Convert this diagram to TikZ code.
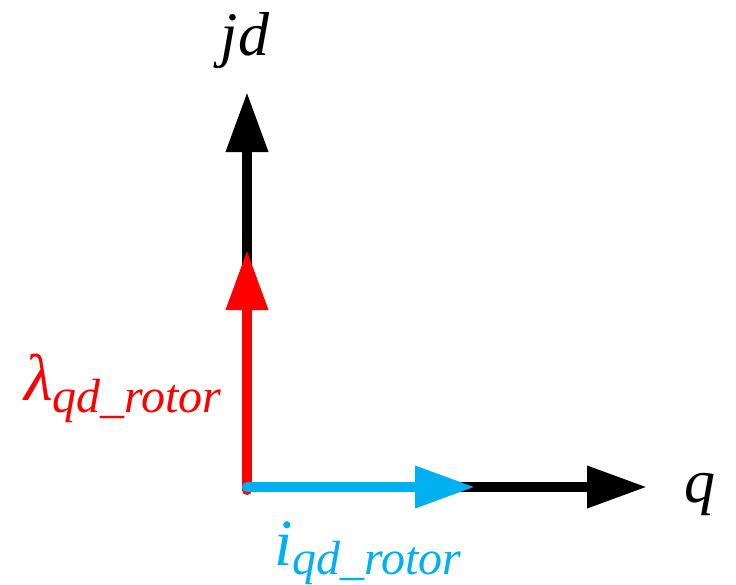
\documentclass[tikz,border=0pt]{standalone}
\usepackage{fontspec}
\setmainfont{Liberation Serif}
\usetikzlibrary{arrows.meta}
\definecolor{vred}{HTML}{FF0000}
\definecolor{vblue}{HTML}{00B0F0}
\begin{document}
\begin{tikzpicture}[x=1pt,y=-1pt,
  vec/.style={line width=10pt,-{Triangle[length=60pt,width=40pt,sharp]}},
  lbl/.style={inner sep=0pt,outer sep=0pt},
  big/.style={font=\fontsize{62}{62}\selectfont\itshape},
  sub/.style={font=\fontsize{48}{48}\selectfont\itshape}]
\useasboundingbox (0,0) rectangle (736,584);
\coordinate (O) at (247,487);
\coordinate (D) at (247,92);
\coordinate (Q) at (647,487);
\coordinate (R) at (247,250);
\coordinate (I) at (475,487);
\coordinate (Ob) at (247,490);
\draw[vec,black] (O) -- (D);
\draw[vec,black] (O) -- (Q);
\draw[vec,vred,line cap=round] (Ob) -- (R);
\draw[vec,vblue,line cap=round] (O) -- (I);
\node[lbl,big,anchor=base] (jd) at (245,55) {jd};
\node[lbl,big,anchor=base] (q) at (700,502) {q};
\node[lbl,anchor=base west,text=vred] (lam) at (24,400)
  {{\fontsize{66}{66}\selectfont\itshape λ}\raisebox{-12pt}{\fontsize{48}{48}\selectfont\itshape qd\_rotor}};
\node[lbl,anchor=base west,text=vblue] (cur) at (274,565)
  {{\fontsize{66}{66}\selectfont\itshape i}\raisebox{-9pt}{\fontsize{48}{48}\selectfont\itshape qd\_rotor}};
\end{tikzpicture}
\end{document}
